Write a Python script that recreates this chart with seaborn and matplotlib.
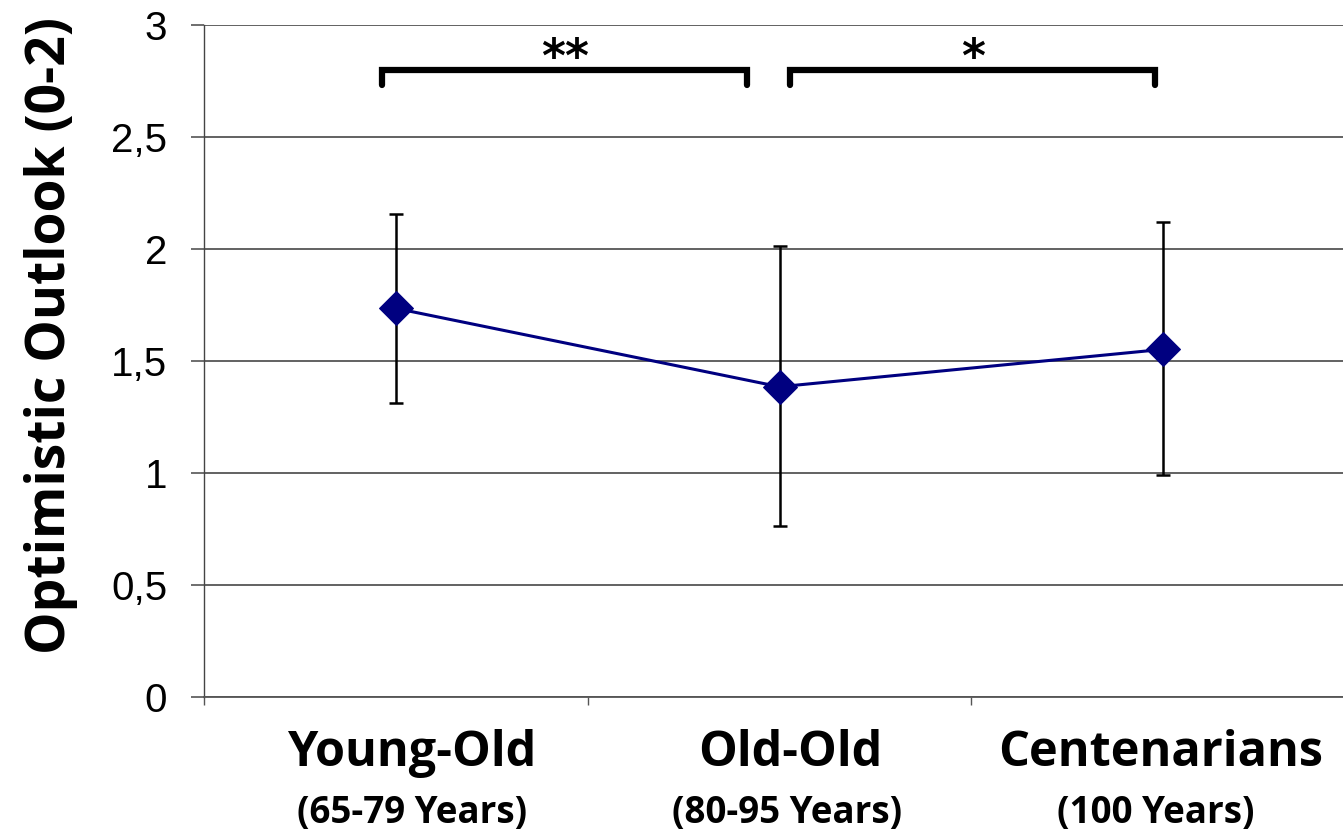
import matplotlib
matplotlib.use("Agg")
import matplotlib.pyplot as plt
import matplotlib.transforms as mtransforms
import seaborn as sns
import pandas as pd

# ---- data ----
groups = ["Young-Old", "Old-Old", "Centenarians"]
ages = ["(65-79 Years)", "(80-95 Years)", "(100 Years)"]
means = [1.735, 1.385, 1.552]
err_upper = [2.157, 2.012, 2.120]
err_lower = [1.312, 0.762, 0.990]
y_ticks = [0, 0.5, 1, 1.5, 2, 2.5, 3]
y_tick_labels = ["0", "0,5", "1", "1,5", "2", "2,5", "3"]
brackets = [(0, 1, "**"), (1, 2, "*")]

sns.set_theme(style="white")
plt.rcParams["font.family"] = ["Liberation Sans", "DejaVu Sans"]
for k in ["text.color", "axes.labelcolor", "xtick.labelcolor", "ytick.labelcolor"]:
    plt.rcParams[k] = "black"

W, H = 1343, 835
fig = plt.figure(figsize=(W / 100, H / 100), dpi=100)
ax = fig.add_axes([204 / W, (H - 697) / H, (1355 - 204) / W, 672 / H])

df = pd.DataFrame({"group": groups, "mean": means})
pos = list(range(len(groups)))

yerr = [[m - lo for m, lo in zip(means, err_lower)],
        [hi - m for m, hi in zip(means, err_upper)]]
ax.errorbar(pos, means, yerr=yerr, fmt="none", ecolor="black",
            elinewidth=1.8, capsize=5, capthick=1.8, zorder=3)
sns.lineplot(x=pos, y=means, ax=ax, color="#000080", linewidth=2.2,
             marker="D", markersize=17, markeredgecolor="#000080",
             zorder=4)

ax.set_xlim(-0.5, 2.5)
ax.set_ylim(0, 3)
ax.set_yticks(y_ticks)
ax.set_yticklabels(y_tick_labels, fontsize=29, family=["Liberation Sans"],
                   color="black")
ax.grid(axis="y", color="#555555", linewidth=1.3)
ax.set_axisbelow(True)

for s in ["top", "right"]:
    ax.spines[s].set_visible(False)
ax.spines["left"].set_color("#444444")
ax.spines["left"].set_linewidth(1.0)
ax.spines["bottom"].set_color("#555555")
ax.spines["bottom"].set_linewidth(1.3)

ax.tick_params(axis="y", which="major", length=9.5, width=1.2,
               color="#555555", pad=17, left=True)
ax.set_xticks(pos)
ax.set_xticklabels([])
ax.tick_params(axis="x", which="major", length=0)
ax.set_xticks([p - 0.5 for p in pos] + [pos[-1] + 0.5], minor=True)
ax.tick_params(axis="x", which="minor", length=6, width=1.0,
               color="#555555", bottom=True)

# category labels (two-line, two sizes), slightly offset like the original
main_dx = [16, 11, -3]
sub_dx = [16, 8, -7]
trans = mtransforms.blended_transform_factory(ax.transData, fig.transFigure)
for p, g, a, d1, d2 in zip(pos, groups, ages, main_dx, sub_dx):
    t1 = mtransforms.offset_copy(trans, fig=fig, x=d1, y=0, units="dots")
    t2 = mtransforms.offset_copy(trans, fig=fig, x=d2, y=0, units="dots")
    ax.text(p, (H - 753) / H, g, transform=t1, ha="center", va="center",
            fontsize=35, fontweight="bold", color="black",
            family=["Open Sans", "DejaVu Sans"], clip_on=False)
    ax.text(p, (H - 813) / H, a, transform=t2, ha="center", va="center",
            fontsize=26.5, fontweight="bold", color="black",
            family=["Open Sans", "DejaVu Sans"], clip_on=False)

ax.set_ylabel("Optimistic Outlook (0-2)", fontsize=38.5, fontweight="bold",
              family=["Open Sans", "DejaVu Sans"], labelpad=24, color="black")
ax.yaxis.label.set_y((697 - 335) / 672)

# significance brackets
top, leg, inset = 2.80, 0.07, 0.035
for a, b, star in brackets:
    x0, x1 = a - inset, b - 0.085
    if a > 0:
        x0, x1 = a + 0.027, b - 0.02
    ax.plot([x0, x0, x1, x1], [top - leg, top, top, top - leg],
            color="black", linewidth=4.5, solid_joinstyle="miter",
            clip_on=False, zorder=5)
    ax.text((x0 + x1) / 2, top - 0.055, star, ha="center", va="bottom",
            fontsize=33, fontweight="bold", color="black",
            family=["DejaVu Sans"])

fig.savefig("out.png", dpi=100)
